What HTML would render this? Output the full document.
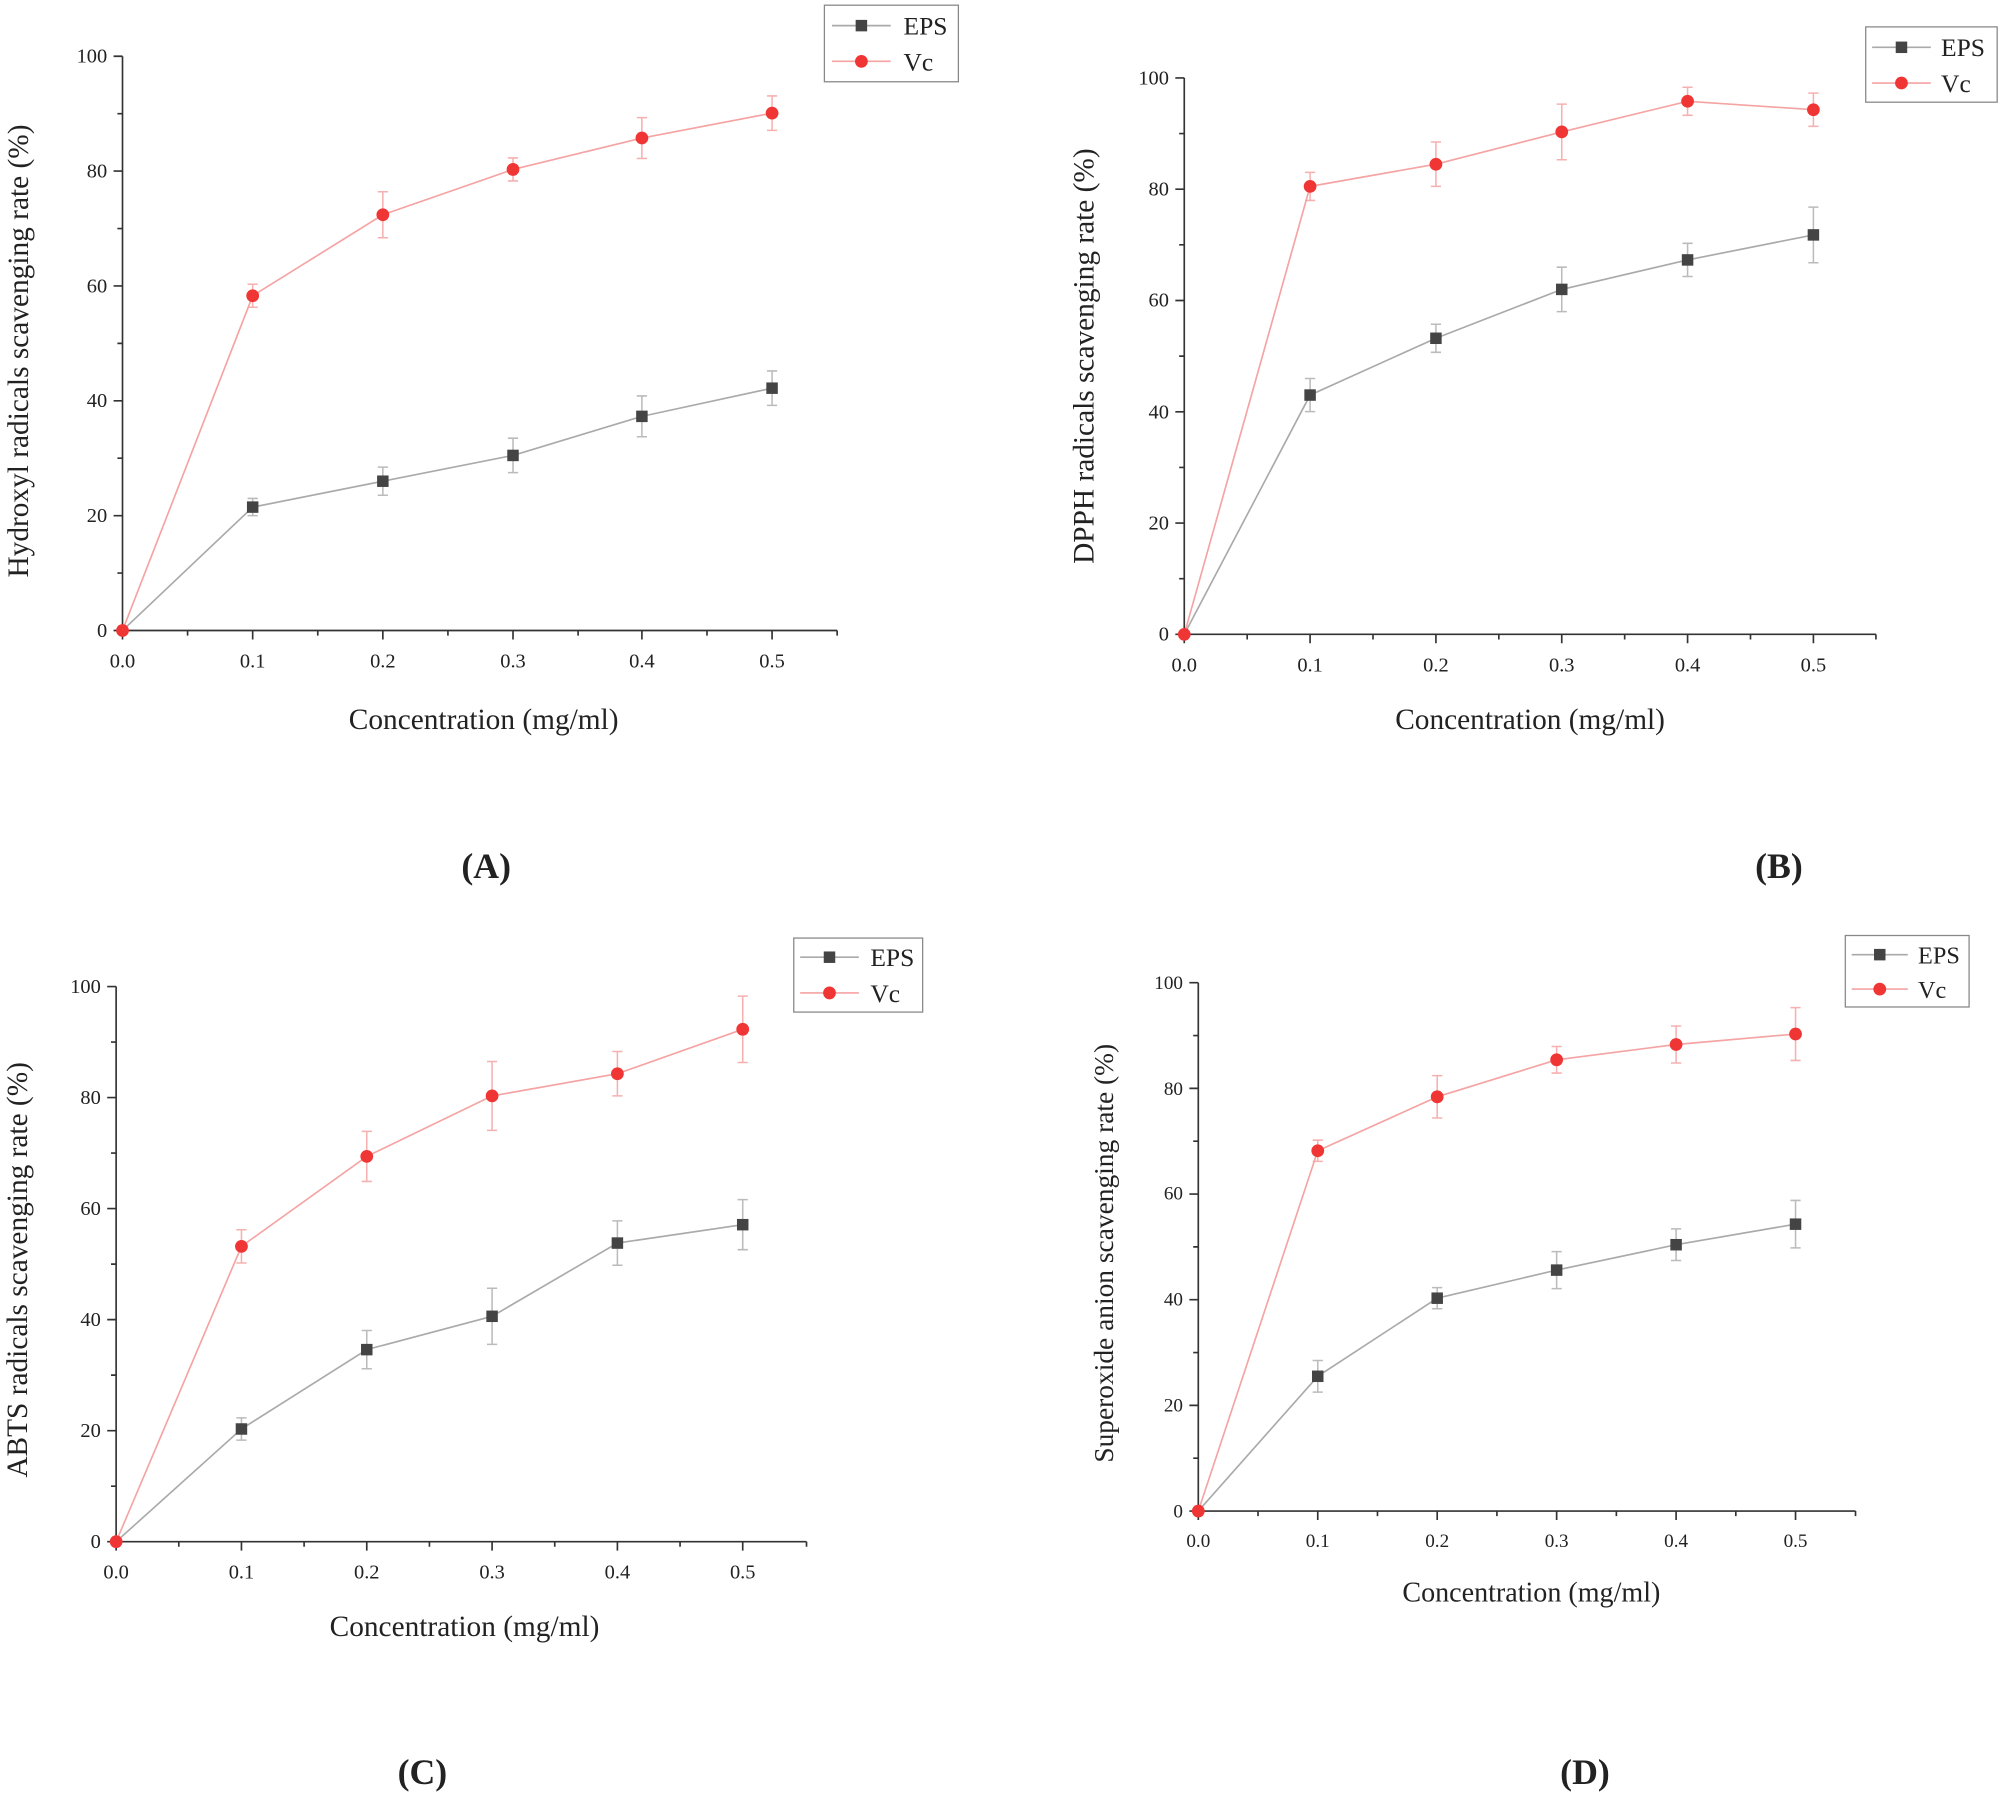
<!DOCTYPE html>
<html><head><meta charset="utf-8"><style>
html,body{margin:0;padding:0;background:#fff;}
svg{display:block;}
text{font-family:"Liberation Serif",serif;fill:#222;}
.t{font-size:16px;}
.l{font-size:23px;}
.lg2{font-size:20px;}
.p{font-size:28px;font-weight:bold;}
.ax{stroke:#333;stroke-width:1.3;fill:none;}
.eps{stroke:#aaa;stroke-width:1.3;fill:none;}
.vc{stroke:#f5a3a3;stroke-width:1.3;fill:none;}
.eb{stroke:#bbb;stroke-width:1.2;}
.ebr{stroke:#f6b0b0;stroke-width:1.2;}
.sq{fill:#444;}
.ci{fill:#f03535;}
.lg{fill:#fff;stroke:#888;stroke-width:1;}
</style></head><body>
<svg width="2001" height="1797" viewBox="0 0 1568 1408" xmlns="http://www.w3.org/2000/svg">
<defs>
<g id="sq"><rect x="-4.5" y="-4.5" width="9" height="9" class="sq"/></g>
<g id="ci"><circle r="5" class="ci"/></g>
</defs>

<!-- Panel A -->
<g>
<path class="ax" d="M96,44 V494 H656"/>
<path class="ax" d="M96,494h-7M96,404h-7M96,314h-7M96,224h-7M96,134h-7M96,44h-7M96,449h-4M96,359h-4M96,269h-4M96,179h-4M96,89h-4"/>
<path class="ax" d="M96,494v7M198,494v7M300,494v7M402,494v7M503,494v7M605,494v7M147,494v4M249,494v4M351,494v4M453,494v4M554,494v4M656,494v4"/>
<g class="t" text-anchor="end"><text x="84" y="499">0</text><text x="84" y="409">20</text><text x="84" y="319">40</text><text x="84" y="229">60</text><text x="84" y="139">80</text><text x="84" y="49">100</text></g>
<g class="t" text-anchor="middle"><text x="96" y="523">0.0</text><text x="198" y="523">0.1</text><text x="300" y="523">0.2</text><text x="402" y="523">0.3</text><text x="503" y="523">0.4</text><text x="605" y="523">0.5</text></g>
<text class="l" text-anchor="middle" x="379" y="571">Concentration (mg/ml)</text>
<text class="l" text-anchor="middle" transform="translate(22,275) rotate(-90)">Hydroxyl radicals scavenging rate (%)</text>
<text class="p" text-anchor="middle" x="381" y="688">(A)</text>
<path class="eb" d="M198,390.5v13.5M194,390.5h8M194,404h8M300,366v22M296,366h8M296,388h8M402,343.3v27M398,343.3h8M398,370.3h8M503,310.2v32M499,310.2h8M499,342.2h8M605,290.6v27M601,290.6h8M601,317.6h8"/>
<path class="ebr" d="M198,222.7v18M194,222.7h8M194,240.7h8M300,150.2v36M296,150.2h8M296,186.2h8M402,123.7v18M398,123.7h8M398,141.7h8M503,92.1v32M499,92.1h8M499,124.1h8M605,75.1v27M601,75.1h8M601,102.1h8"/>
<polyline class="eps" points="96,494 198,397.3 300,377 402,356.8 503,326.2 605,304.1"/>
<polyline class="vc" points="96,494 198,231.7 300,168.2 402,132.7 503,108.1 605,88.6"/>
<use href="#sq" x="198" y="397.3"/><use href="#sq" x="300" y="377"/><use href="#sq" x="402" y="356.8"/><use href="#sq" x="503" y="326.2"/><use href="#sq" x="605" y="304.1"/>
<use href="#ci" x="96" y="494"/><use href="#ci" x="198" y="231.7"/><use href="#ci" x="300" y="168.2"/><use href="#ci" x="402" y="132.7"/><use href="#ci" x="503" y="108.1"/><use href="#ci" x="605" y="88.6"/>
<rect class="lg" x="646" y="4" width="105" height="60"/>
<path class="eps" d="M652,20h46"/><use href="#sq" x="675" y="20"/>
<path class="vc" d="M652,48h46"/><use href="#ci" x="675" y="48"/>
<text class="lg2" x="708" y="27">EPS</text><text class="lg2" x="708" y="55">Vc</text>
</g>

<!-- Panel B -->
<g>
<path class="ax" d="M928,61 V497 H1470"/>
<path class="ax" d="M928,497h-7M928,409.8h-7M928,322.6h-7M928,235.4h-7M928,148.2h-7M928,61h-7M928,453.4h-4M928,366.2h-4M928,279h-4M928,191.8h-4M928,104.6h-4"/>
<path class="ax" d="M928,497v7M1026.6,497v7M1125.2,497v7M1223.8,497v7M1322.4,497v7M1421,497v7M977.3,497v4M1075.9,497v4M1174.5,497v4M1273.1,497v4M1371.7,497v4M1470,497v4"/>
<g class="t" text-anchor="end"><text x="916" y="502">0</text><text x="916" y="415">20</text><text x="916" y="328">40</text><text x="916" y="240">60</text><text x="916" y="153">80</text><text x="916" y="66">100</text></g>
<g class="t" text-anchor="middle"><text x="928" y="526">0.0</text><text x="1026.6" y="526">0.1</text><text x="1125.2" y="526">0.2</text><text x="1223.8" y="526">0.3</text><text x="1322.4" y="526">0.4</text><text x="1421" y="526">0.5</text></g>
<text class="l" text-anchor="middle" x="1199" y="571">Concentration (mg/ml)</text>
<text class="l" text-anchor="middle" transform="translate(857,279) rotate(-90)">DPPH radicals scavenging rate (%)</text>
<text class="p" text-anchor="middle" x="1394" y="688">(B)</text>
<path class="eb" d="M1026.6,296.5v26M1022.6,296.5h8M1022.6,322.5h8M1125.2,254v22M1121.2,254h8M1121.2,276h8M1223.8,209.3v34.8M1219.8,209.3h8M1219.8,244.1h8M1322.4,190.6v26M1318.4,190.6h8M1318.4,216.6h8M1421,162.2v43.6M1417,162.2h8M1417,205.8h8"/>
<path class="ebr" d="M1026.6,135v22M1022.6,135h8M1022.6,157h8M1125.2,111.2v34.8M1121.2,111.2h8M1121.2,146h8M1223.8,81.5v43.6M1219.8,81.5h8M1219.8,125.1h8M1322.4,68.3v22M1318.4,68.3h8M1318.4,90.3h8M1421,72.9v26M1417,72.9h8M1417,98.9h8"/>
<polyline class="eps" points="928,497 1026.6,309.5 1125.2,265 1223.8,226.7 1322.4,203.6 1421,184"/>
<polyline class="vc" points="928,497 1026.6,146 1125.2,128.6 1223.8,103.3 1322.4,79.3 1421,85.9"/>
<use href="#sq" x="1026.6" y="309.5"/><use href="#sq" x="1125.2" y="265"/><use href="#sq" x="1223.8" y="226.7"/><use href="#sq" x="1322.4" y="203.6"/><use href="#sq" x="1421" y="184"/>
<use href="#ci" x="928" y="497"/><use href="#ci" x="1026.6" y="146"/><use href="#ci" x="1125.2" y="128.6"/><use href="#ci" x="1223.8" y="103.3"/><use href="#ci" x="1322.4" y="79.3"/><use href="#ci" x="1421" y="85.9"/>
<rect class="lg" x="1462" y="21" width="103" height="59"/>
<path class="eps" d="M1467,37h46"/><use href="#sq" x="1490" y="37"/>
<path class="vc" d="M1467,65h46"/><use href="#ci" x="1490" y="65"/>
<text class="lg2" x="1521" y="44">EPS</text><text class="lg2" x="1521" y="72">Vc</text>
</g>

<!-- Panel C -->
<g>
<path class="ax" d="M91,773 V1208 H632"/>
<path class="ax" d="M91,1208h-7M91,1121h-7M91,1034h-7M91,947h-7M91,860h-7M91,773h-7M91,1164.5h-4M91,1077.5h-4M91,990.5h-4M91,903.5h-4M91,816.5h-4"/>
<path class="ax" d="M91,1208v7M189.2,1208v7M287.4,1208v7M385.6,1208v7M483.8,1208v7M582,1208v7M140.1,1208v4M238.3,1208v4M336.5,1208v4M434.7,1208v4M532.9,1208v4M632,1208v4"/>
<g class="t" text-anchor="end"><text x="79" y="1213">0</text><text x="79" y="1126">20</text><text x="79" y="1039">40</text><text x="79" y="952">60</text><text x="79" y="865">80</text><text x="79" y="778">100</text></g>
<g class="t" text-anchor="middle"><text x="91" y="1237">0.0</text><text x="189.2" y="1237">0.1</text><text x="287.4" y="1237">0.2</text><text x="385.6" y="1237">0.3</text><text x="483.8" y="1237">0.4</text><text x="582" y="1237">0.5</text></g>
<text class="l" text-anchor="middle" x="364" y="1282">Concentration (mg/ml)</text>
<text class="l" text-anchor="middle" transform="translate(21,995) rotate(-90)">ABTS radicals scavenging rate (%)</text>
<text class="p" text-anchor="middle" x="331" y="1398">(C)</text>
<path class="eb" d="M189.2,1111v17.4M185.2,1111h8M185.2,1128.4h8M287.4,1042.5v30M283.4,1042.5h8M283.4,1072.5h8M385.6,1009.4v44M381.6,1009.4h8M381.6,1053.4h8M483.8,956.6v34.8M479.8,956.6h8M479.8,991.4h8M582,940v39.2M578,940h8M578,979.2h8"/>
<path class="ebr" d="M189.2,963.6v26M185.2,963.6h8M185.2,989.6h8M287.4,886.5v39.2M283.4,886.5h8M283.4,925.7h8M385.6,831.7v54M381.6,831.7h8M381.6,885.7h8M483.8,823.9v34.8M479.8,823.9h8M479.8,858.7h8M582,780.5v52M578,780.5h8M578,832.5h8"/>
<polyline class="eps" points="91,1208 189.2,1119.7 287.4,1057.5 385.6,1031.4 483.8,974 582,959.6"/>
<polyline class="vc" points="91,1208 189.2,976.6 287.4,906.1 385.6,858.7 483.8,841.3 582,806.5"/>
<use href="#sq" x="189.2" y="1119.7"/><use href="#sq" x="287.4" y="1057.5"/><use href="#sq" x="385.6" y="1031.4"/><use href="#sq" x="483.8" y="974"/><use href="#sq" x="582" y="959.6"/>
<use href="#ci" x="91" y="1208"/><use href="#ci" x="189.2" y="976.6"/><use href="#ci" x="287.4" y="906.1"/><use href="#ci" x="385.6" y="858.7"/><use href="#ci" x="483.8" y="841.3"/><use href="#ci" x="582" y="806.5"/>
<rect class="lg" x="622" y="735" width="101" height="58"/>
<path class="eps" d="M627,750h46"/><use href="#sq" x="650" y="750"/>
<path class="vc" d="M627,778h46"/><use href="#ci" x="650" y="778"/>
<text class="lg2" x="682" y="757">EPS</text><text class="lg2" x="682" y="785">Vc</text>
</g>

<!-- Panel D -->
<g>
<path class="ax" d="M939,770 V1184 H1454"/>
<path class="ax" d="M939,1184h-7M939,1101.2h-7M939,1018.4h-7M939,935.6h-7M939,852.8h-7M939,770h-7M939,1142.6h-4M939,1059.8h-4M939,977h-4M939,894.2h-4M939,811.4h-4"/>
<path class="ax" d="M939,1184v7M1032.6,1184v7M1126.2,1184v7M1219.8,1184v7M1313.4,1184v7M1407,1184v7M985.8,1184v4M1079.4,1184v4M1173,1184v4M1266.6,1184v4M1360.2,1184v4M1454,1184v4"/>
<g class="t" text-anchor="end" style="font-size:15px"><text x="927" y="1189">0</text><text x="927" y="1106">20</text><text x="927" y="1023">40</text><text x="927" y="940">60</text><text x="927" y="858">80</text><text x="927" y="775">100</text></g>
<g class="t" text-anchor="middle" style="font-size:15px"><text x="939" y="1212">0.0</text><text x="1032.6" y="1212">0.1</text><text x="1126.2" y="1212">0.2</text><text x="1219.8" y="1212">0.3</text><text x="1313.4" y="1212">0.4</text><text x="1407" y="1212">0.5</text></g>
<text class="l" text-anchor="middle" x="1200" y="1255" style="font-size:22px">Concentration (mg/ml)</text>
<text class="l" text-anchor="middle" transform="translate(872,982) rotate(-90)" style="font-size:21.5px">Superoxide anion scavenging rate (%)</text>
<text class="p" text-anchor="middle" x="1242" y="1398">(D)</text>
<path class="eb" d="M1032.6,1066v24.8M1028.6,1066h8M1028.6,1090.8h8M1126.2,1008.9v16.6M1122.2,1008.9h8M1122.2,1025.5h8M1219.8,980.7v29M1215.8,980.7h8M1215.8,1009.7h8M1313.4,962.9v24.8M1309.4,962.9h8M1309.4,987.7h8M1407,940.6v37.2M1403,940.6h8M1403,977.8h8"/>
<path class="ebr" d="M1032.6,893.4v16.6M1028.6,893.4h8M1028.6,910h8M1126.2,842.8v33.2M1122.2,842.8h8M1122.2,876h8M1219.8,820v20.8M1215.8,820h8M1215.8,840.8h8M1313.4,803.9v29M1309.4,803.9h8M1309.4,832.9h8M1407,789.5v41.4M1403,789.5h8M1403,830.9h8"/>
<polyline class="eps" points="939,1184 1032.6,1078.4 1126.2,1017.2 1219.8,995.2 1313.4,975.3 1407,959.2"/>
<polyline class="vc" points="939,1184 1032.6,901.7 1126.2,859.4 1219.8,830.4 1313.4,818.4 1407,810.2"/>
<use href="#sq" x="1032.6" y="1078.4"/><use href="#sq" x="1126.2" y="1017.2"/><use href="#sq" x="1219.8" y="995.2"/><use href="#sq" x="1313.4" y="975.3"/><use href="#sq" x="1407" y="959.2"/>
<use href="#ci" x="939" y="1184"/><use href="#ci" x="1032.6" y="901.7"/><use href="#ci" x="1126.2" y="859.4"/><use href="#ci" x="1219.8" y="830.4"/><use href="#ci" x="1313.4" y="818.4"/><use href="#ci" x="1407" y="810.2"/>
<rect class="lg" x="1446" y="733" width="97" height="56"/>
<path class="eps" d="M1451,748h44"/><use href="#sq" x="1473" y="748"/>
<path class="vc" d="M1451,775h44"/><use href="#ci" x="1473" y="775"/>
<text class="lg2" x="1503" y="755" style="font-size:19px">EPS</text><text class="lg2" x="1503" y="782" style="font-size:19px">Vc</text>
</g>
</svg>
</body></html>
